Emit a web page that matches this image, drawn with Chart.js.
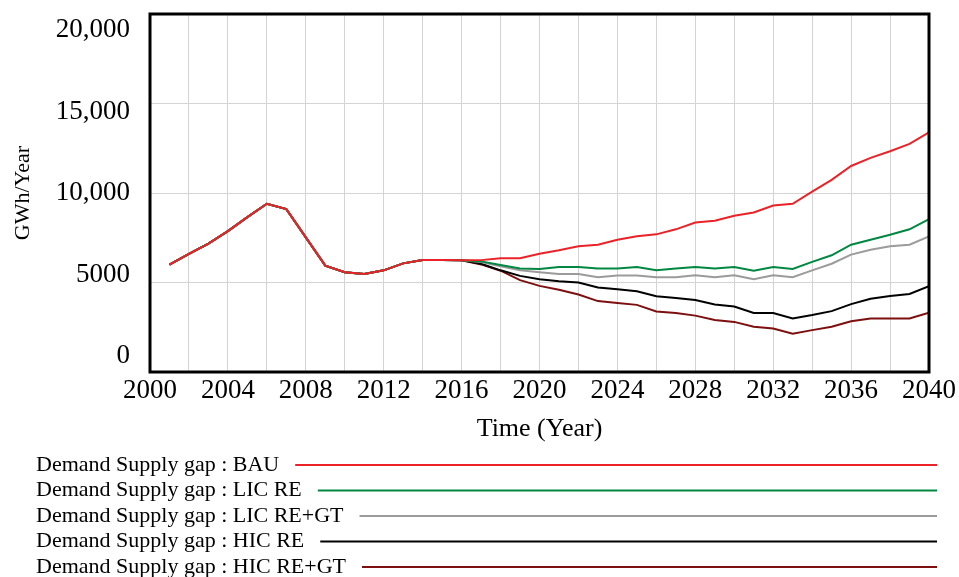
<!DOCTYPE html>
<html>
<head>
<meta charset="utf-8">
<script src="https://cdn.jsdelivr.net/npm/chart.js@4"></script>
<style>
  html, body { margin: 0; padding: 0; background: #fff; }
  #wrap { width: 959px; height: 577px; }
</style>
</head>
<body>
<div id="wrap"><canvas id="gapChart" width="959" height="577"></canvas></div>
<script>
const years = [];
for (let y = 2001; y <= 2040; y++) years.push(y);

// history shared by every scenario, 2001-2016
const history = [6000, 6600, 7170, 7870, 8650, 9400, 9100, 7520, 5940, 5570, 5480, 5680, 6070, 6260, 6260, 6240];

// scenarios, 2017-2040
const bau = [6250, 6350, 6350, 6610, 6800, 7020, 7110, 7390, 7580, 7690, 7970, 8350, 8450, 8730, 8910, 9300, 9400, 10080, 10730, 11510, 11960, 12330, 12740, 13390];
const licRe = [6180, 5980, 5780, 5760, 5870, 5870, 5780, 5780, 5870, 5680, 5780, 5870, 5780, 5870, 5660, 5870, 5760, 6150, 6520, 7110, 7390, 7670, 7970, 8540];
const licReGt = [6140, 5900, 5680, 5570, 5480, 5480, 5290, 5390, 5390, 5290, 5290, 5400, 5290, 5400, 5180, 5400, 5290, 5680, 6050, 6560, 6830, 7020, 7110, 7580];
const hicRe = [6050, 5680, 5370, 5180, 5070, 5000, 4720, 4620, 4510, 4230, 4140, 4020, 3770, 3660, 3300, 3300, 2990, 3180, 3400, 3790, 4090, 4250, 4360, 4790];
const hicReGt = [6010, 5660, 5130, 4810, 4600, 4330, 3960, 3860, 3750, 3380, 3290, 3150, 2900, 2800, 2530, 2430, 2140, 2340, 2530, 2840, 2990, 2990, 2990, 3310];

const yTicks = [0, 5000, 10000, 15000, 20000];
const yTickLabels = ['0', '5000', '10,000', '15,000', '20,000'];

const serif = "'Liberation Serif', 'Times New Roman', serif";

const series = [
  { label: 'Demand Supply gap : BAU', values: bau, color: 'rgb(235,35,40)' },
  { label: 'Demand Supply gap : LIC RE', values: licRe, color: 'rgb(0,135,65)' },
  { label: 'Demand Supply gap : LIC RE+GT', values: licReGt, color: 'rgb(155,155,155)' },
  { label: 'Demand Supply gap : HIC RE', values: hicRe, color: 'rgb(0,0,0)' },
  { label: 'Demand Supply gap : HIC RE+GT', values: hicReGt, color: 'rgb(125,15,15)' }
];

// the y labels sit pulled in toward the middle, and the legend is a list with long lines
const extras = {
  id: 'extras',
  afterDraw(chart) {
    const ctx = chart.ctx;
    const area = chart.chartArea;
    const ys = chart.scales.y;
    const mid = ys.getPixelForValue(10000);
    ctx.save();
    ctx.font = '27px ' + serif;
    ctx.fillStyle = '#000';
    ctx.textAlign = 'right';
    ctx.textBaseline = 'middle';
    yTicks.forEach((v, i) => {
      const p = ys.getPixelForValue(v);
      ctx.fillText(yTickLabels[i], area.left - 20, p + (mid - p) * 0.09);
    });

    ctx.strokeStyle = '#000';
    ctx.lineWidth = 3;
    ctx.strokeRect(area.left, area.top, area.right - area.left, area.bottom - area.top);

    ctx.font = '22px ' + serif;
    ctx.textAlign = 'left';
    series.forEach((s, i) => {
      const y = 465 + i * 25.5;
      ctx.fillStyle = '#000';
      ctx.fillText(s.label, 36, y);
      const w = ctx.measureText(s.label).width;
      ctx.strokeStyle = s.color;
      ctx.lineWidth = 2;
      ctx.beginPath();
      ctx.moveTo(36 + w + 16, y);
      ctx.lineTo(937, y);
      ctx.stroke();
    });
    ctx.restore();
  }
};

new Chart(document.getElementById('gapChart'), {
  type: 'line',
  data: {
    datasets: series.map(s => ({
      label: s.label,
      data: years.map((yr, i) => ({ x: yr, y: i < history.length ? history[i] : s.values[i - history.length] })),
      borderColor: s.color,
      borderWidth: 2,
      pointRadius: 0,
      tension: 0,
      fill: false
    }))
  },
  options: {
    responsive: false,
    animation: false,
    layout: { padding: { left: 0, top: 14, right: 29, bottom: 129 } },
    plugins: {
      legend: { display: false },
      tooltip: { enabled: false }
    },
    scales: {
      x: {
        type: 'linear',
        min: 2000,
        max: 2040,
        afterFit: s => { s.height = 76; },
        border: { display: false },
        grid: { color: '#d4d4d4', lineWidth: 1, drawTicks: false },
        ticks: {
          stepSize: 2,
          autoSkip: false,
          maxRotation: 0,
          padding: 3,
          color: '#000',
          font: { family: serif, size: 27 },
          callback: v => (v % 4 === 0 ? String(v) : '')
        },
        title: {
          display: true,
          text: 'Time (Year)',
          color: '#000',
          font: { family: serif, size: 26 },
          padding: { top: 0, bottom: 3 }
        }
      },
      y: {
        min: 0,
        max: 20000,
        afterFit: s => { s.width = 150; },
        border: { display: false },
        grid: { color: '#d4d4d4', lineWidth: 1, drawTicks: false },
        ticks: {
          stepSize: 5000,
          callback: () => ''
        },
        title: {
          display: true,
          text: 'GWh/Year',
          color: '#000',
          font: { family: serif, size: 22 },
          padding: { top: 10, bottom: 0 }
        }
      }
    }
  },
  plugins: [extras]
});
</script>
</body>
</html>
